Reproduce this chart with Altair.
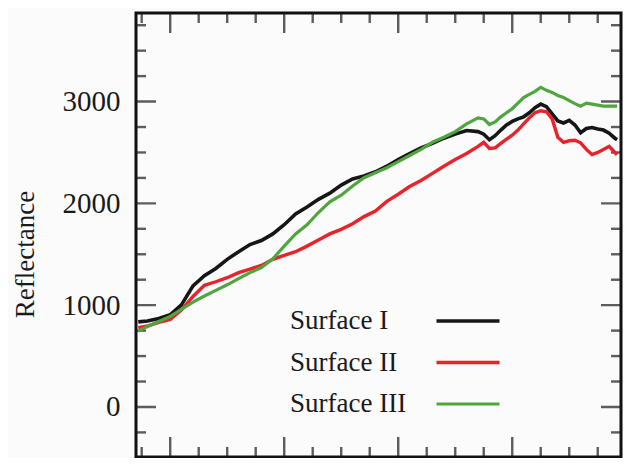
import altair as alt
import pandas as pd

# ---- data ----
wavelength = [472, 480, 490, 500, 510, 520, 530, 540, 550, 560, 570, 580, 590, 600,
              610, 620, 630, 640, 650, 660, 670, 680, 690, 700, 710, 720, 730, 740,
              750, 760, 770, 775, 780, 785, 790, 795, 800, 805, 810, 815, 820, 825,
              830, 835, 840, 845, 850, 855, 860, 865, 870, 875, 880, 885, 890, 892]

surface_1 = [836, 845, 870, 905, 1005, 1190, 1290, 1360, 1450, 1525, 1595, 1635, 1700, 1790,
             1895, 1965, 2040, 2100, 2180, 2240, 2270, 2310, 2365, 2430, 2490, 2545, 2590, 2640,
             2680, 2715, 2705, 2680, 2625, 2665, 2720, 2770, 2805, 2830, 2850, 2890, 2940, 2975,
             2950, 2880, 2810, 2790, 2815, 2770, 2694, 2735, 2745, 2730, 2720, 2690, 2640, 2626]

surface_2 = [780, 795, 830, 860, 955, 1085, 1195, 1230, 1270, 1320, 1355, 1390, 1450, 1490,
             1525, 1580, 1640, 1700, 1745, 1800, 1870, 1925, 2020, 2090, 2165, 2225, 2295, 2365,
             2430, 2490, 2560, 2600, 2540, 2545, 2590, 2630, 2670, 2720, 2780, 2840, 2890, 2910,
             2900, 2830, 2650, 2600, 2615, 2620, 2595, 2530, 2480, 2500, 2530, 2560, 2500, 2478]

surface_3 = [745, 790, 840, 890, 960, 1030, 1090, 1145, 1200, 1260, 1320, 1370, 1455, 1580,
             1700, 1790, 1910, 2015, 2080, 2170, 2252, 2300, 2350, 2410, 2470, 2530, 2600, 2650,
             2705, 2780, 2840, 2830, 2775, 2800, 2850, 2890, 2930, 2985, 3040, 3070, 3100, 3140,
             3110, 3090, 3060, 3040, 3010, 2980, 2955, 2985, 2975, 2965, 2955, 2955, 2955, 2955]

series_names = ["Surface I", "Surface II", "Surface III"]
series_colors = ["#161616", "#e8232b", "#4fa63f"]
series_widths = [3.6, 3.2, 2.6]

y_labels = [0, 1000, 2000, 3000]
y_minor = [-250, 250, 500, 750, 1250, 1500, 1750, 2250, 2500, 2750, 3250, 3500, 3750]
x_major = [500, 600, 700, 800]
x_minor = [475, 525, 550, 575, 625, 650, 675, 725, 750, 775, 825, 850, 875]

FONT = "Liberation Serif"
W, H = 485, 444
MAJOR, MINOR = 40, 20  # tick marks are centred on the frame, half is clipped

rows = []
for name, vals in zip(series_names, [surface_1, surface_2, surface_3]):
    for x, v in zip(wavelength, vals):
        rows.append({"wavelength": x, "reflectance": v, "series": name})
df = pd.DataFrame(rows)

xscale = alt.Scale(domain=[470, 895.4], nice=False, zero=False)
yscale = alt.Scale(domain=[-491.5, 3870], nice=False, zero=False)

yaxis = alt.Axis(values=y_labels, ticks=False, domain=False, grid=False, format="d",
                 labelFont=FONT, labelFontSize=29, labelColor="#1a1a1a", labelPadding=16,
                 title="Reflectance", titleFont=FONT, titleFontSize=27, titleFontWeight="normal",
                 titleColor="#1a1a1a", titleX=-111, titleY=241, titleAngle=-90,
                 titleAlign="center", titleBaseline="middle")

lines = alt.Chart(df).mark_line(clip=True).encode(
    x=alt.X("wavelength:Q", scale=xscale, axis=None),
    y=alt.Y("reflectance:Q", scale=yscale, axis=yaxis),
    color=alt.Color("series:N",
                    scale=alt.Scale(domain=series_names, range=series_colors),
                    legend=alt.Legend(title=None, orient="none", legendX=318.5, legendY=294.5,
                                      symbolType="M-3.15,0H3.15", symbolSize=400,
                                      symbolStrokeWidth=3.5, rowPadding=13.5,
                                      labelFont=FONT, labelFontSize=27, labelColor="#1a1a1a",
                                      labelAlign="left", labelOffset={"expr": "-191.5"})),
    strokeWidth=alt.StrokeWidth("series:N",
                                scale=alt.Scale(domain=series_names, range=series_widths),
                                legend=None),
)

ytick_df = pd.DataFrame({"v": y_labels + y_minor,
                         "len": [MAJOR] * len(y_labels) + [MINOR] * len(y_minor)})
xtick_df = pd.DataFrame({"t": x_major + x_minor,
                         "len": [MAJOR] * len(x_major) + [MINOR] * len(x_minor)})

def ytick(xpos):
    return alt.Chart(ytick_df).mark_tick(clip=True, thickness=2.4, color="#1a1a1a",
                                         orient="horizontal").encode(
        y=alt.Y("v:Q", scale=yscale, axis=yaxis),
        x=alt.value(xpos),
        size=alt.Size("len:Q", scale=None, legend=None),
    )

def xtick(ypos):
    return alt.Chart(xtick_df).mark_tick(clip=True, thickness=2.4, color="#1a1a1a",
                                         orient="vertical").encode(
        x=alt.X("t:Q", scale=xscale, axis=None),
        y=alt.value(ypos),
        size=alt.Size("len:Q", scale=None, legend=None),
    )

chart = alt.layer(
    ytick(0), ytick(W), xtick(0), xtick(H), lines
).properties(
    width=W, height=H,
    autosize=alt.AutoSizeParams(type="none"),
    padding={"left": 128, "top": 5, "right": 2, "bottom": 1},
    background="#fbfbfb",
).configure_view(
    stroke="#111111", strokeWidth=3,
)

chart.save("out.html", embed_options={"renderer": "svg", "actions": False})
